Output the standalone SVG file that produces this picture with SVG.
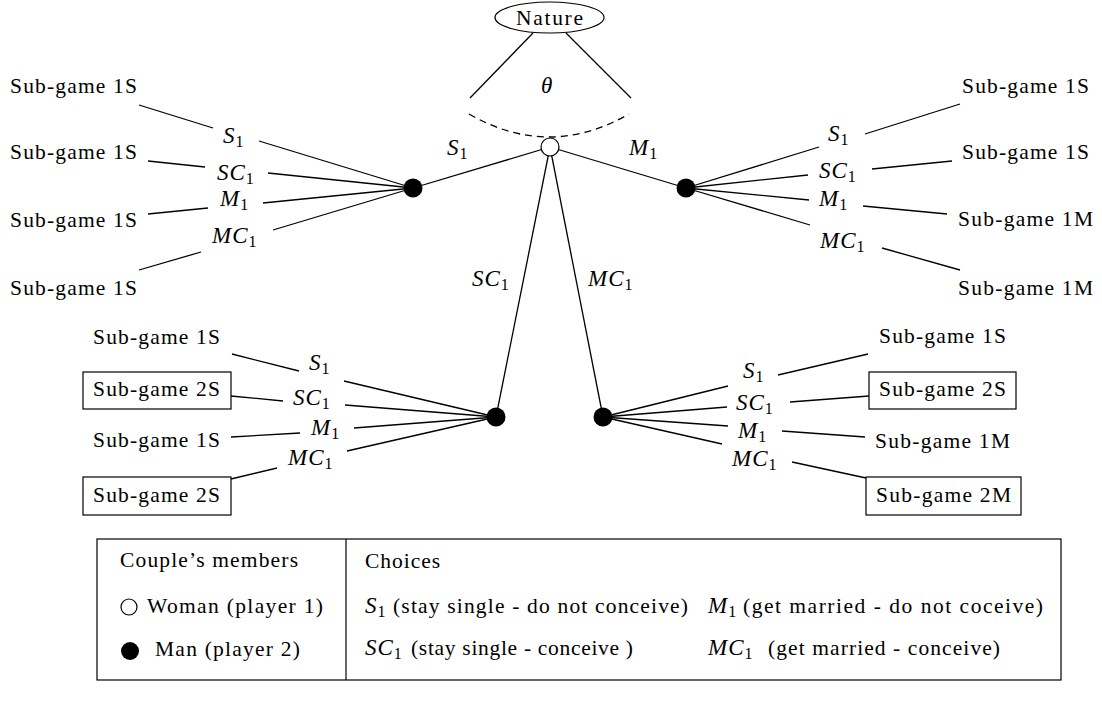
<svg xmlns="http://www.w3.org/2000/svg" width="1102" height="701" viewBox="0 0 1102 701">
<style>
.t{font-family:"Liberation Serif","Times New Roman",serif;font-size:21.5px;fill:#000}
.i{font-style:italic;font-size:23px;letter-spacing:1px}
.sub{font-size:16px}
.e{stroke:#000;stroke-width:1.3;fill:none}
.box{fill:#fff;stroke:#000;stroke-width:1.2}
.blk{fill:#000}
.wht{fill:#fff;stroke:#000;stroke-width:1.2}
</style>
<rect width="1102" height="701" fill="#fff"/>
<g id="connectors" class="e">
<line x1="533" y1="33" x2="470" y2="98"/>
<line x1="566" y1="33" x2="631" y2="98"/>
<path d="M469,114 Q549,160 629,114" stroke-dasharray="7 5"/>
<line x1="550" y1="147" x2="413" y2="188"/>
<line x1="550" y1="147" x2="686" y2="188"/>
<line x1="550" y1="147" x2="496" y2="417"/>
<line x1="550" y1="147" x2="603" y2="417"/>
<line x1="413" y1="188" x2="259" y2="141"/><line x1="213" y1="128" x2="139" y2="105"/>
<line x1="413" y1="188" x2="268" y2="173"/><line x1="205" y1="167" x2="148" y2="161"/>
<line x1="413" y1="188" x2="263" y2="203"/><line x1="208" y1="208" x2="148" y2="214"/>
<line x1="413" y1="188" x2="273" y2="230"/><line x1="201" y1="252" x2="139" y2="270"/>
<line x1="686" y1="188" x2="819" y2="147"/><line x1="865" y1="134" x2="960" y2="104"/>
<line x1="686" y1="188" x2="808" y2="175"/><line x1="872" y1="169" x2="952" y2="161"/>
<line x1="686" y1="188" x2="809" y2="200"/><line x1="863" y1="206" x2="947" y2="214"/>
<line x1="686" y1="188" x2="810" y2="225"/><line x1="882" y1="248" x2="960" y2="270"/>
<line x1="496" y1="417" x2="344" y2="381"/><line x1="299" y1="371" x2="232" y2="354"/>
<line x1="496" y1="417" x2="345" y2="405"/><line x1="283" y1="401" x2="231" y2="396"/>
<line x1="496" y1="417" x2="354" y2="428"/><line x1="300" y1="433" x2="231" y2="437"/>
<line x1="496" y1="417" x2="347" y2="451"/><line x1="277" y1="468" x2="231" y2="479"/>
<line x1="603" y1="417" x2="728" y2="386"/><line x1="778" y1="375" x2="868" y2="354"/>
<line x1="603" y1="417" x2="727" y2="407"/><line x1="790" y1="402" x2="869" y2="396"/>
<line x1="603" y1="417" x2="728" y2="426"/><line x1="782" y1="431" x2="865" y2="437"/>
<line x1="603" y1="417" x2="722" y2="444"/><line x1="792" y1="462" x2="866" y2="478"/>
</g>
<g id="edge-labels" class="t">
<text x="541" y="93" class="t"><tspan class="i">θ</tspan></text>
<text x="447" y="155"><tspan class="i">S</tspan><tspan class="sub" dy="4">1</tspan></text>
<text x="629" y="155"><tspan class="i">M</tspan><tspan class="sub" dy="4">1</tspan></text>
<text x="472" y="286"><tspan class="i">SC</tspan><tspan class="sub" dy="4">1</tspan></text>
<text x="588" y="286"><tspan class="i">MC</tspan><tspan class="sub" dy="4">1</tspan></text>
<text x="223" y="143"><tspan class="i">S</tspan><tspan class="sub" dy="4">1</tspan></text>
<text x="217" y="180"><tspan class="i">SC</tspan><tspan class="sub" dy="4">1</tspan></text>
<text x="220" y="206"><tspan class="i">M</tspan><tspan class="sub" dy="4">1</tspan></text>
<text x="212" y="243"><tspan class="i">MC</tspan><tspan class="sub" dy="4">1</tspan></text>
<text x="828" y="141"><tspan class="i">S</tspan><tspan class="sub" dy="4">1</tspan></text>
<text x="819" y="178"><tspan class="i">SC</tspan><tspan class="sub" dy="4">1</tspan></text>
<text x="819" y="206"><tspan class="i">M</tspan><tspan class="sub" dy="4">1</tspan></text>
<text x="820" y="248"><tspan class="i">MC</tspan><tspan class="sub" dy="4">1</tspan></text>
<text x="309" y="370"><tspan class="i">S</tspan><tspan class="sub" dy="4">1</tspan></text>
<text x="293" y="405"><tspan class="i">SC</tspan><tspan class="sub" dy="4">1</tspan></text>
<text x="311" y="435"><tspan class="i">M</tspan><tspan class="sub" dy="4">1</tspan></text>
<text x="288" y="465"><tspan class="i">MC</tspan><tspan class="sub" dy="4">1</tspan></text>
<text x="743" y="378"><tspan class="i">S</tspan><tspan class="sub" dy="4">1</tspan></text>
<text x="736" y="410"><tspan class="i">SC</tspan><tspan class="sub" dy="4">1</tspan></text>
<text x="738" y="438"><tspan class="i">M</tspan><tspan class="sub" dy="4">1</tspan></text>
<text x="732" y="466"><tspan class="i">MC</tspan><tspan class="sub" dy="4">1</tspan></text>
</g>
<g id="nature">
<ellipse cx="549.5" cy="17.5" rx="54.5" ry="15.5" class="wht"/>
<text x="516" y="25" class="t" textLength="67">Nature</text>
</g>
<g id="woman"><circle cx="550" cy="147" r="9" class="wht"/></g>
<g id="man-s"><circle cx="413" cy="188" r="9.5" class="blk"/></g>
<g id="man-m"><circle cx="686" cy="188" r="9.5" class="blk"/></g>
<g id="man-sc"><circle cx="496" cy="417" r="9.5" class="blk"/></g>
<g id="man-mc"><circle cx="603" cy="417" r="9.5" class="blk"/></g>
<g id="leaves-s" class="t">
<text x="10" y="93" textLength="127">Sub-game 1S</text>
<text x="10" y="159" textLength="127">Sub-game 1S</text>
<text x="10" y="227" textLength="127">Sub-game 1S</text>
<text x="10" y="295" textLength="127">Sub-game 1S</text>
</g>
<g id="leaves-m" class="t">
<text x="962" y="93" textLength="127">Sub-game 1S</text>
<text x="962" y="159" textLength="127">Sub-game 1S</text>
<text x="958" y="226" textLength="135">Sub-game 1M</text>
<text x="958" y="295" textLength="135">Sub-game 1M</text>
</g>
<g id="leaves-sc">
<text x="93" y="344" class="t" textLength="127">Sub-game 1S</text>
<rect x="83" y="372" width="148" height="37" class="box"/>
<text x="93" y="396" class="t" textLength="127">Sub-game 2S</text>
<text x="93" y="447" class="t" textLength="127">Sub-game 1S</text>
<rect x="83" y="477" width="148" height="38" class="box"/>
<text x="93" y="502" class="t" textLength="127">Sub-game 2S</text>
</g>
<g id="leaves-mc">
<text x="879" y="343" class="t" textLength="127">Sub-game 1S</text>
<rect x="869" y="372" width="147" height="37" class="box"/>
<text x="879" y="396" class="t" textLength="127">Sub-game 2S</text>
<text x="875" y="448" class="t" textLength="135">Sub-game 1M</text>
<rect x="866" y="477" width="155" height="38" class="box"/>
<text x="876" y="502" class="t" textLength="135">Sub-game 2M</text>
</g>
<g id="legend">
<rect x="97" y="539" width="964" height="141" fill="none" stroke="#000" stroke-width="1.2"/>
<line x1="346" y1="539" x2="346" y2="680" stroke="#000" stroke-width="1.2"/>
<text x="120" y="567" class="t" textLength="178">Couple’s members</text>
<circle cx="129" cy="607" r="8" class="wht"/>
<text x="147" y="613" class="t" textLength="176">Woman (player 1)</text>
<circle cx="130" cy="651" r="9" class="blk"/>
<text x="155" y="656" class="t" textLength="145">Man (player 2)</text>
<text x="365" y="568" class="t" textLength="75">Choices</text>
<text x="365" y="613" class="t"><tspan class="i">S</tspan><tspan class="sub" dy="4">1</tspan></text>
<text x="393" y="613" class="t" textLength="295">(stay single - do not conceive)</text>
<text x="708" y="613" class="t"><tspan class="i">M</tspan><tspan class="sub" dy="4">1</tspan></text>
<text x="743" y="613" class="t" textLength="300">(get married - do not coceive)</text>
<text x="365" y="655" class="t"><tspan class="i">SC</tspan><tspan class="sub" dy="4">1</tspan></text>
<text x="411" y="655" class="t" textLength="222">(stay single - conceive )</text>
<text x="708" y="655" class="t"><tspan class="i">MC</tspan><tspan class="sub" dy="4">1</tspan></text>
<text x="768" y="655" class="t" textLength="232">(get married - conceive)</text>
</g>
</svg>
